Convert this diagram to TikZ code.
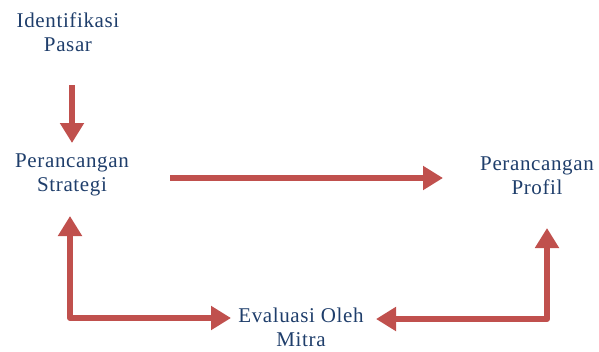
\documentclass[tikz,border=0pt]{standalone}
\usepackage{fontspec}
\setmainfont[LetterSpace=3]{Liberation Serif}
\usetikzlibrary{arrows.meta}
\definecolor{arrred}{HTML}{C0504D}
\definecolor{txtblue}{HTML}{1F3E6B}
\begin{document}
\begin{tikzpicture}[x=1pt,y=-1pt,
  lbl/.style={text=txtblue,align=center,font=\fontsize{21}{24}\selectfont,inner sep=0pt},
  bigarrow/.style={draw=arrred,line width=6pt,line join=round,
    -{Triangle[width=23pt,length=20pt]}},
  bothways/.style={bigarrow,{Triangle[width=23pt,length=20pt]}-{Triangle[width=23pt,length=20pt]}}]
\useasboundingbox (0,0) rectangle (599,351);
\node[lbl] (idp) at (68,32) {Identifikasi\\Pasar};
\node[lbl] (pst) at (72,175) {Perancangan\\Strategi};
\node[lbl] (ppr) at (537,176) {Perancangan\\Profil};
\node[lbl] (evm) at (301,327) {Evaluasi Oleh\\Mitra};
\coordinate (a1s) at (72,85);
\coordinate (a1e) at (72,143);
\coordinate (a2s) at (170,178);
\coordinate (a2e) at (443,178);
\coordinate (a3t) at (70,216);
\coordinate (a3r) at (231,318);
\coordinate (a4t) at (547,228);
\coordinate (a4l) at (376,319);
\draw[bigarrow] (a1s) -- (a1e);
\draw[bigarrow] (a2s) -- (a2e);
\draw[bothways] (a3t) |- (a3r);
\draw[bothways] (a4t) |- (a4l);
\end{tikzpicture}
\end{document}
